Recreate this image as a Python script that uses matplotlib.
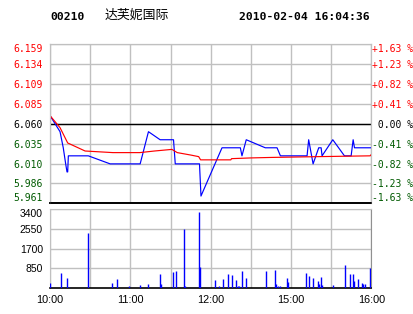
import matplotlib
matplotlib.use("Agg")
import matplotlib.pyplot as plt

# intraday minutes counted from 10:00 (lunch break 12:30-14:30 removed)
price_t = [0, 7.5, 8.7, 9.9, 11.7, 12.7, 13.2, 13.7, 28.6, 44.9, 67.3, 73.5, 82.2,
           92.2, 93.5, 111.6, 112.7, 128.4, 142.1, 143.3, 146.5, 160.7, 169.5, 172,
           191.9, 193.1, 196.4, 200.6, 202.4, 203.1, 211.1, 219.8, 224.8, 226.3,
           227.3, 240]
price = [6.07, 6.05, 6.04, 6.03, 6.01, 6.00, 6.00, 6.02, 6.02, 6.01, 6.01, 6.05, 6.04,
         6.04, 6.01, 6.01, 5.97, 6.03, 6.03, 6.02, 6.04, 6.03, 6.03, 6.02,
         6.02, 6.04, 6.01, 6.03, 6.03, 6.02, 6.04, 6.02, 6.02, 6.04,
         6.03, 6.03]

avg_t = [0, 7.5, 13.2, 26.2, 47, 67, 78, 91, 95, 105, 111, 112.4, 135, 135.5, 150,
         165, 200, 239, 240]
avg = [6.07, 6.055, 6.036, 6.026, 6.024, 6.024, 6.026, 6.028, 6.024, 6.021, 6.019,
       6.015, 6.015, 6.0165, 6.0174, 6.018, 6.019, 6.020, 6.022]

vol_t = [0, 8, 13, 14, 28, 46, 50, 59, 67, 73, 82, 83, 92, 94, 100, 101, 111, 112,
         123, 126, 129, 133, 136, 139, 140, 141, 143, 146, 161, 168, 169, 170, 172,
         177, 178, 191, 193, 196, 200, 201, 202, 203, 211, 220, 224, 226, 227, 230,
         233, 234, 235, 239, 240]
vol = [210, 640, 430, 60, 2360, 210, 390, 100, 140, 170, 600, 170, 690, 740, 2540,
       100, 3260, 930, 360, 110, 400, 610, 570, 360, 110, 110, 740, 440, 740, 790,
       200, 110, 110, 440, 270, 660, 520, 440, 310, 200, 490, 140, 140, 1000, 610,
       610, 310, 400, 240, 200, 200, 870, 520]

price_ticks = [6.159, 6.134, 6.109, 6.085, 6.060, 6.035, 6.010, 5.986, 5.961]
pct_labels = ["+1.63 %", "+1.23 %", "+0.82 %", "+0.41 %", " 0.00 %",
              "-0.41 %", "-0.82 %", "-1.23 %", "-1.63 %"]
vol_ticks = [850, 1700, 2550, 3400]
time_ticks = [0, 60, 120, 180, 240]
time_labels = ["10:00", "11:00", "12:00", "15:00", "16:00"]

prev_close = 6.060
red = "#ff0000"
green = "#005a00"
grid = "#c0c0c0"

plt.rcParams['font.family'] = ['DejaVu Sans', 'Noto Sans CJK SC']


def pin_edge_labels(labels):
    # keep the first/last label inside the panel, like the original
    labels = list(labels)
    ordered = sorted(labels, key=lambda l: l.get_position()[1])
    ordered[0].set_verticalalignment("bottom")
    ordered[-1].set_verticalalignment("top")


fig = plt.figure(figsize=(4.14, 3.14), dpi=100)
ax = fig.add_axes([50 / 414, 1 - 203.3 / 314, 321.5 / 414, 159.3 / 314])
axv = fig.add_axes([50 / 414, 1 - 288.3 / 314, 321.5 / 414, 79.3 / 314])

# price panel
ax.plot(price_t, price, color="#0000ff", lw=0.85, zorder=3)
ax.plot(avg_t, avg, color=red, lw=0.85, zorder=3)
ax.axhline(prev_close, color="black", lw=1.0, zorder=2)
ax.set_xlim(0, 240)
ax.set_ylim(price_ticks[-1], price_ticks[0])
ax.set_xticks(range(0, 241, 30))
ax.set_xticklabels([])
ax.set_yticks(price_ticks)
ax.set_yticklabels([f"{v:.3f}" for v in price_ticks], family="DejaVu Sans Mono", fontsize=7)
for lab, v in zip(ax.get_yticklabels(), price_ticks):
    lab.set_color(red if v > prev_close else ("black" if v == prev_close else green))
pin_edge_labels(ax.get_yticklabels())
ax.tick_params(length=0, pad=5)
ax.grid(True, color=grid, lw=1.0, zorder=0)

axr = ax.twinx()
axr.set_ylim(ax.get_ylim())
axr.set_yticks(price_ticks)
axr.set_yticklabels(pct_labels, family="DejaVu Sans Mono", fontsize=7)
for lab, s in zip(axr.get_yticklabels(), pct_labels):
    lab.set_color(red if s.startswith("+") else ("black" if s.startswith(" ") else green))
pin_edge_labels(axr.get_yticklabels())
axr.tick_params(length=0, pad=0.5)

for a in (ax, axr):
    for side in ("top", "left", "right"):
        a.spines[side].set_color(grid)
    a.spines["bottom"].set_color("black")
    a.spines["bottom"].set_linewidth(1.2)

# volume panel
axv.vlines(vol_t, 0, vol, color="#0000ff", lw=1.0, zorder=3)
axv.set_xlim(0, 240)
axv.set_ylim(0, 3400)
axv.set_xticks(range(0, 241, 30))
axv.set_xticklabels(["" if t not in time_ticks else time_labels[time_ticks.index(t)]
                     for t in range(0, 241, 30)], family="Liberation Sans", fontsize=7.8)
axv.set_yticks(vol_ticks)
axv.set_yticklabels([str(v) for v in vol_ticks], family="Liberation Sans", fontsize=7.5)
axv.get_yticklabels()[-1].set_verticalalignment("top")
axv.tick_params(length=0)
axv.tick_params(axis="y", pad=5)
axv.tick_params(axis="x", pad=5)
axv.grid(True, color=grid, lw=1.0, zorder=0)
for side in ("top", "left", "right"):
    axv.spines[side].set_color(grid)
axv.spines["right"].set_color("#909090")
axv.spines["bottom"].set_color("black")
axv.spines["bottom"].set_linewidth(1.2)

# header
fig.text(50 / 414, 1 - 16.5 / 314, "00210", family="DejaVu Sans Mono", weight="bold",
         fontsize=8.2, va="center", ha="left")
fig.text(105 / 414, 1 - 15.5 / 314, "达芙妮国际", family=["Noto Sans CJK SC", "DejaVu Sans"],
         fontsize=9.3, va="center", ha="left")
fig.text(370 / 414, 1 - 16.5 / 314, "2010-02-04 16:04:36", family="DejaVu Sans Mono",
         weight="bold", fontsize=8.2, va="center", ha="right")

fig.savefig("out.png", dpi=100)
